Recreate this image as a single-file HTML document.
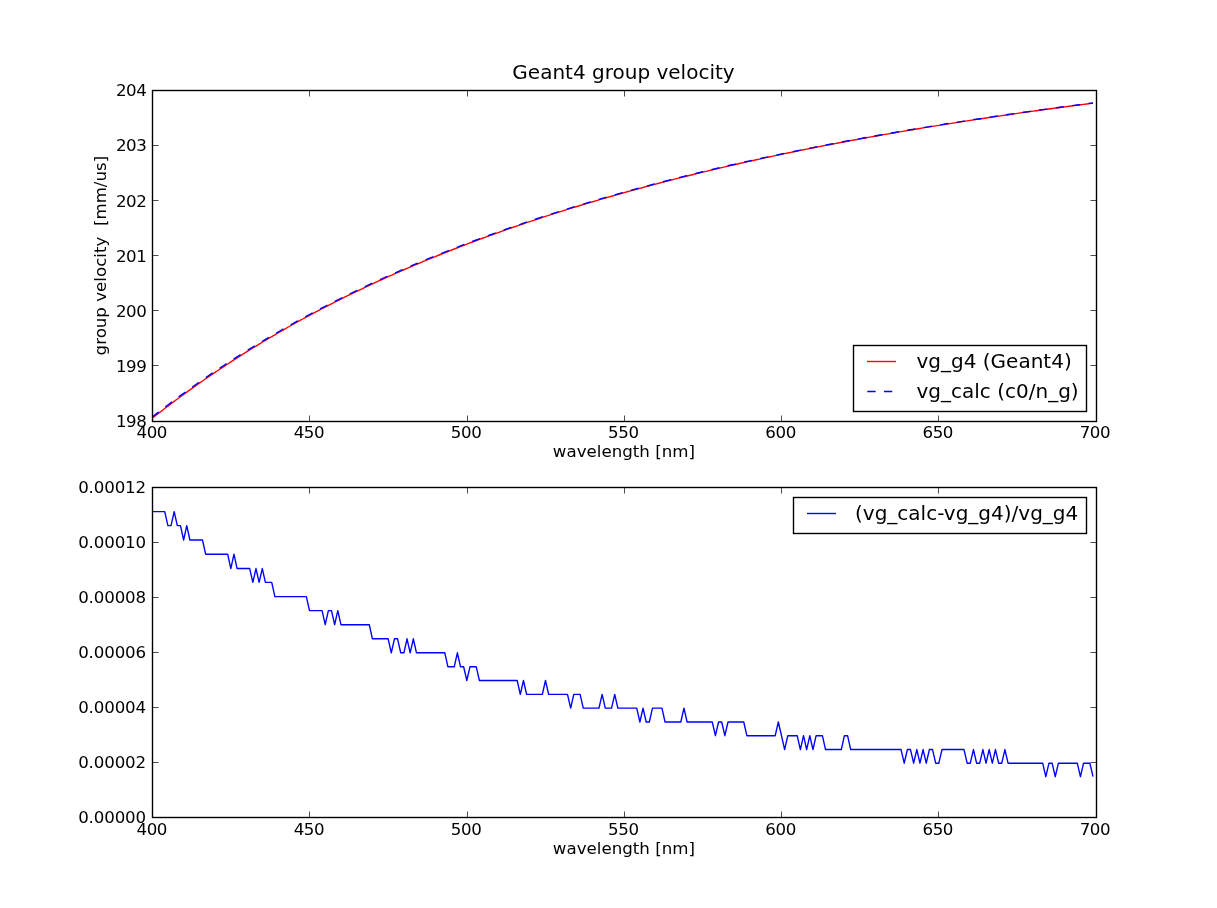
<!DOCTYPE html>
<html lang="en"><head><meta charset="utf-8"><title>Geant4 group velocity</title>
<style>html,body{margin:0;padding:0;background:#fff;}body{width:1217px;height:908px;overflow:hidden;}svg{display:block;}text{font-family:'DejaVu Sans', 'Liberation Sans', sans-serif;fill:#000;}</style></head><body>
<svg width="1217" height="908" viewBox="0 0 1217 908">
<rect x="0" y="0" width="1217" height="908" fill="#ffffff"/>
<defs><clipPath id="c1"><rect x="152.5" y="90.5" width="944.0" height="331.0"/></clipPath><clipPath id="c2"><rect x="152.5" y="487.5" width="944.0" height="330.0"/></clipPath></defs>
<g clip-path="url(#c1)" fill="none" stroke-linejoin="round">
<polyline stroke="#ff0000" stroke-width="1.39" points="152.15,418.26 155.3,415.8 158.44,413.36 161.59,410.93 164.74,408.52 167.88,406.13 171.03,403.75 174.18,401.4 177.32,399.06 180.47,396.74 183.62,394.43 186.76,392.15 189.91,389.88 193.06,387.63 196.2,385.39 199.35,383.18 202.5,380.98 205.64,378.8 208.79,376.63 211.94,374.48 215.08,372.35 218.23,370.24 221.38,368.14 224.52,366.05 227.67,363.99 230.82,361.94 233.96,359.9 237.11,357.88 240.26,355.88 243.4,353.89 246.55,351.91 249.7,349.95 252.84,348 255.99,346.07 259.14,344.16 262.28,342.25 265.43,340.36 268.58,338.49 271.72,336.63 274.87,334.78 278.02,332.94 281.16,331.12 284.31,329.31 287.46,327.52 290.6,325.74 293.75,323.97 296.9,322.22 300.04,320.48 303.19,318.75 306.34,317.04 309.49,315.34 312.63,313.65 315.78,311.98 318.93,310.32 322.07,308.67 325.22,307.04 328.37,305.41 331.51,303.8 334.66,302.2 337.81,300.62 340.95,299.04 344.1,297.48 347.25,295.92 350.39,294.38 353.54,292.85 356.69,291.33 359.83,289.82 362.98,288.32 366.13,286.83 369.27,285.35 372.42,283.88 375.57,282.42 378.71,280.97 381.86,279.54 385.01,278.11 388.15,276.69 391.3,275.28 394.45,273.88 397.59,272.49 400.74,271.11 403.89,269.74 407.03,268.38 410.18,267.03 413.33,265.68 416.47,264.35 419.62,263.02 422.77,261.71 425.91,260.4 429.06,259.1 432.21,257.81 435.35,256.53 438.5,255.25 441.65,253.99 444.79,252.73 447.94,251.48 451.09,250.24 454.23,249.01 457.38,247.79 460.53,246.57 463.67,245.36 466.82,244.16 469.97,242.96 473.11,241.77 476.26,240.59 479.41,239.42 482.55,238.26 485.7,237.1 488.85,235.95 491.99,234.8 495.14,233.66 498.29,232.53 501.43,231.41 504.58,230.3 507.73,229.19 510.87,228.09 514.02,226.99 517.17,225.9 520.31,224.82 523.46,223.75 526.61,222.68 529.75,221.62 532.9,220.57 536.05,219.52 539.19,218.48 542.34,217.44 545.49,216.42 548.63,215.39 551.78,214.38 554.93,213.37 558.07,212.37 561.22,211.37 564.37,210.38 567.51,209.4 570.66,208.42 573.81,207.44 576.95,206.48 580.1,205.52 583.25,204.56 586.39,203.61 589.54,202.67 592.69,201.73 595.83,200.8 598.98,199.87 602.13,198.95 605.27,198.04 608.42,197.13 611.57,196.22 614.71,195.32 617.86,194.43 621.01,193.54 624.15,192.65 627.3,191.77 630.45,190.9 633.6,190.03 636.74,189.17 639.89,188.31 643.04,187.46 646.18,186.61 649.33,185.76 652.48,184.92 655.62,184.09 658.77,183.26 661.92,182.44 665.06,181.62 668.21,180.8 671.36,179.99 674.5,179.18 677.65,178.38 680.8,177.59 683.94,176.79 687.09,176.01 690.24,175.22 693.38,174.45 696.53,173.67 699.68,172.9 702.82,172.14 705.97,171.37 709.12,170.62 712.26,169.86 715.41,169.12 718.56,168.37 721.7,167.63 724.85,166.9 728,166.16 731.14,165.44 734.29,164.71 737.44,163.99 740.58,163.28 743.73,162.56 746.88,161.86 750.02,161.15 753.17,160.45 756.32,159.75 759.46,159.06 762.61,158.37 765.76,157.69 768.9,157.01 772.05,156.33 775.2,155.66 778.34,154.99 781.49,154.33 784.64,153.67 787.78,153.01 790.93,152.36 794.08,151.71 797.22,151.07 800.37,150.43 803.52,149.79 806.66,149.16 809.81,148.53 812.96,147.9 816.1,147.28 819.25,146.66 822.4,146.04 825.54,145.43 828.69,144.82 831.84,144.21 834.98,143.61 838.13,143.01 841.28,142.41 844.42,141.82 847.57,141.23 850.72,140.64 853.86,140.05 857.01,139.47 860.16,138.89 863.3,138.32 866.45,137.74 869.6,137.18 872.74,136.61 875.89,136.04 879.04,135.48 882.18,134.93 885.33,134.37 888.48,133.82 891.62,133.27 894.77,132.72 897.92,132.18 901.06,131.64 904.21,131.1 907.36,130.56 910.5,130.03 913.65,129.5 916.8,128.97 919.94,128.45 923.09,127.93 926.24,127.41 929.38,126.89 932.53,126.37 935.68,125.86 938.83,125.35 941.97,124.84 945.12,124.34 948.27,123.84 951.41,123.34 954.56,122.84 957.71,122.35 960.85,121.85 964,121.36 967.15,120.87 970.29,120.39 973.44,119.91 976.59,119.42 979.73,118.95 982.88,118.47 986.03,118 989.17,117.52 992.32,117.06 995.47,116.59 998.61,116.12 1001.76,115.66 1004.91,115.2 1008.05,114.74 1011.2,114.29 1014.35,113.83 1017.49,113.38 1020.64,112.93 1023.79,112.49 1026.93,112.04 1030.08,111.6 1033.23,111.16 1036.37,110.72 1039.52,110.28 1042.67,109.85 1045.81,109.41 1048.96,108.98 1052.11,108.55 1055.25,108.13 1058.4,107.7 1061.55,107.28 1064.69,106.86 1067.84,106.44 1070.99,106.03 1074.13,105.61 1077.28,105.2 1080.43,104.79 1083.57,104.38 1086.72,103.97 1089.87,103.56 1093.01,103.16"/>
<polyline stroke="#0000ff" stroke-width="1.39" stroke-dasharray="8.33 8.33" points="152.15,417.05 155.3,414.59 158.44,412.14 161.59,409.71 164.74,407.3 167.88,404.97 171.03,402.59 174.18,400.18 177.32,397.9 180.47,395.57 183.62,393.33 186.76,390.98 189.91,388.77 193.06,386.52 196.2,384.29 199.35,382.07 202.5,379.87 205.64,377.75 208.79,375.58 211.94,373.43 215.08,371.3 218.23,369.19 221.38,367.09 224.52,365 227.67,362.94 230.82,360.94 233.96,358.85 237.11,356.89 240.26,354.88 243.4,352.89 246.55,350.92 249.7,348.96 252.84,347.06 255.99,345.08 259.14,343.22 262.28,341.26 265.43,339.42 268.58,337.55 271.72,335.69 274.87,333.89 278.02,332.06 281.16,330.24 284.31,328.43 287.46,326.64 290.6,324.86 293.75,323.09 296.9,321.34 300.04,319.6 303.19,317.87 306.34,316.16 309.49,314.51 312.63,312.82 315.78,311.15 318.93,309.49 322.07,307.84 325.22,306.26 328.37,304.58 331.51,302.97 334.66,301.43 337.81,299.78 340.95,298.27 344.1,296.7 347.25,295.15 350.39,293.61 353.54,292.07 356.69,290.55 359.83,289.04 362.98,287.54 366.13,286.05 369.27,284.58 372.42,283.16 375.57,281.7 378.71,280.26 381.86,278.82 385.01,277.39 388.15,275.97 391.3,274.62 394.45,273.16 397.59,271.77 400.74,270.45 403.89,269.08 407.03,267.66 410.18,266.36 413.33,264.96 416.47,263.68 419.62,262.36 422.77,261.04 425.91,259.73 429.06,258.44 432.21,257.15 435.35,255.86 438.5,254.59 441.65,253.33 444.79,252.07 447.94,250.88 451.09,249.64 454.23,248.4 457.38,247.12 460.53,245.96 463.67,244.75 466.82,243.6 469.97,242.35 473.11,241.16 476.26,239.98 479.41,238.87 482.55,237.7 485.7,236.54 488.85,235.39 491.99,234.25 495.14,233.11 498.29,231.98 501.43,230.86 504.58,229.74 507.73,228.63 510.87,227.53 514.02,226.44 517.17,225.35 520.31,224.33 523.46,223.2 526.61,222.18 529.75,221.12 532.9,220.07 536.05,219.02 539.19,217.98 542.34,216.95 545.49,215.86 548.63,214.9 551.78,213.88 554.93,212.87 558.07,211.87 561.22,210.87 564.37,209.88 567.51,208.9 570.66,207.97 573.81,206.95 576.95,205.98 580.1,205.02 583.25,204.12 586.39,203.17 589.54,202.23 592.69,201.29 595.83,200.36 598.98,199.43 602.13,198.45 605.27,197.59 608.42,196.68 611.57,195.78 614.71,194.82 617.86,193.98 621.01,193.09 624.15,192.21 627.3,191.33 630.45,190.46 633.6,189.59 636.74,188.72 639.89,187.92 643.04,187.01 646.18,186.22 649.33,185.38 652.48,184.48 655.62,183.65 658.77,182.82 661.92,181.99 665.06,181.23 668.21,180.41 671.36,179.6 674.5,178.8 677.65,178 680.8,177.2 683.94,176.35 687.09,175.62 690.24,174.84 693.38,174.06 696.53,173.28 699.68,172.51 702.82,171.75 705.97,170.99 709.12,170.23 712.26,169.48 715.41,168.78 718.56,167.98 721.7,167.24 724.85,166.56 728,165.78 731.14,165.05 734.29,164.32 737.44,163.6 740.58,162.89 743.73,162.17 746.88,161.52 750.02,160.82 753.17,160.12 756.32,159.42 759.46,158.73 762.61,158.04 765.76,157.36 768.9,156.68 772.05,156 775.2,155.33 778.34,154.6 781.49,154 784.64,153.39 787.78,152.68 790.93,152.03 794.08,151.38 797.22,150.73 800.37,150.15 803.52,149.46 806.66,148.88 809.81,148.19 812.96,147.62 816.1,146.94 819.25,146.32 822.4,145.71 825.54,145.15 828.69,144.54 831.84,143.93 834.98,143.33 838.13,142.73 841.28,142.13 844.42,141.48 847.57,140.89 850.72,140.36 853.86,139.78 857.01,139.19 860.16,138.62 863.3,138.04 866.45,137.47 869.6,136.9 872.74,136.33 875.89,135.77 879.04,135.21 882.18,134.65 885.33,134.09 888.48,133.54 891.62,132.99 894.77,132.45 897.92,131.9 901.06,131.36 904.21,130.88 907.36,130.29 910.5,129.75 913.65,129.28 916.8,128.7 919.94,128.23 923.09,127.65 926.24,127.18 929.38,126.61 932.53,126.1 935.68,125.64 938.83,125.13 941.97,124.57 945.12,124.06 948.27,123.56 951.41,123.06 954.56,122.56 957.71,122.07 960.85,121.58 964,121.08 967.15,120.65 970.29,120.17 973.44,119.63 976.59,119.2 979.73,118.72 982.88,118.19 986.03,117.77 989.17,117.25 992.32,116.83 995.47,116.31 998.61,115.9 1001.76,115.44 1004.91,114.92 1008.05,114.52 1011.2,114.07 1014.35,113.61 1017.49,113.16 1020.64,112.71 1023.79,112.26 1026.93,111.82 1030.08,111.38 1033.23,110.93 1036.37,110.5 1039.52,110.06 1042.67,109.62 1045.81,109.25 1048.96,108.76 1052.11,108.33 1055.25,107.96 1058.4,107.48 1061.55,107.06 1064.69,106.64 1067.84,106.22 1070.99,105.8 1074.13,105.39 1077.28,104.98 1080.43,104.62 1083.57,104.16 1086.72,103.75 1089.87,103.34 1093.01,102.99"/>
</g>
<g clip-path="url(#c2)" fill="none" stroke-linejoin="round">
<polyline stroke="#0000ff" stroke-width="1.39" points="152.15,511.65 155.3,511.65 158.44,511.65 161.59,511.65 164.74,511.65 167.88,525.6 171.03,525.6 174.18,511.65 177.32,525.6 180.47,525.6 183.62,540 186.76,525.6 189.91,540 193.06,540 196.2,540 199.35,540 202.5,540 205.64,554.2 208.79,554.2 211.94,554.2 215.08,554.2 218.23,554.2 221.38,554.2 224.52,554.2 227.67,554.2 230.82,568.55 233.96,554.2 237.11,568.55 240.26,568.55 243.4,568.55 246.55,568.55 249.7,568.55 252.84,582.4 255.99,568.55 259.14,582.4 262.28,568.55 265.43,582.4 268.58,582.4 271.72,582.4 274.87,596.6 278.02,596.6 281.16,596.6 284.31,596.6 287.46,596.6 290.6,596.6 293.75,596.6 296.9,596.6 300.04,596.6 303.19,596.6 306.34,596.6 309.49,610.6 312.63,610.6 315.78,610.6 318.93,610.6 322.07,610.6 325.22,624.7 328.37,610.6 331.51,610.6 334.66,624.7 337.81,610.6 340.95,624.7 344.1,624.7 347.25,624.7 350.39,624.7 353.54,624.7 356.69,624.7 359.83,624.7 362.98,624.7 366.13,624.7 369.27,624.7 372.42,638.8 375.57,638.8 378.71,638.8 381.86,638.8 385.01,638.8 388.15,638.8 391.3,652.8 394.45,638.8 397.59,638.8 400.74,652.8 403.89,652.8 407.03,638.8 410.18,652.8 413.33,638.8 416.47,652.8 419.62,652.8 422.77,652.8 425.91,652.8 429.06,652.8 432.21,652.8 435.35,652.8 438.5,652.8 441.65,652.8 444.79,652.8 447.94,666.8 451.09,666.8 454.23,666.8 457.38,652.8 460.53,666.8 463.67,666.8 466.82,680.5 469.97,666.8 473.11,666.8 476.26,666.8 479.41,680.5 482.55,680.5 485.7,680.5 488.85,680.5 491.99,680.5 495.14,680.5 498.29,680.5 501.43,680.5 504.58,680.5 507.73,680.5 510.87,680.5 514.02,680.5 517.17,680.5 520.31,694.4 523.46,680.5 526.61,694.4 529.75,694.4 532.9,694.4 536.05,694.4 539.19,694.4 542.34,694.4 545.49,680.5 548.63,694.4 551.78,694.4 554.93,694.4 558.07,694.4 561.22,694.4 564.37,694.4 567.51,694.4 570.66,708.1 573.81,694.4 576.95,694.4 580.1,694.4 583.25,708.1 586.39,708.1 589.54,708.1 592.69,708.1 595.83,708.1 598.98,708.1 602.13,694.4 605.27,708.1 608.42,708.1 611.57,708.1 614.71,694.4 617.86,708.1 621.01,708.1 624.15,708.1 627.3,708.1 630.45,708.1 633.6,708.1 636.74,708.1 639.89,722 643.04,708.1 646.18,722 649.33,722 652.48,708.1 655.62,708.1 658.77,708.1 661.92,708.1 665.06,722 668.21,722 671.36,722 674.5,722 677.65,722 680.8,722 683.94,708.1 687.09,722 690.24,722 693.38,722 696.53,722 699.68,722 702.82,722 705.97,722 709.12,722 712.26,722 715.41,735.7 718.56,722 721.7,722 724.85,735.7 728,722 731.14,722 734.29,722 737.44,722 740.58,722 743.73,722 746.88,735.7 750.02,735.7 753.17,735.7 756.32,735.7 759.46,735.7 762.61,735.7 765.76,735.7 768.9,735.7 772.05,735.7 775.2,735.7 778.34,722 781.49,735.7 784.64,749.55 787.78,735.7 790.93,735.7 794.08,735.7 797.22,735.7 800.37,749.55 803.52,735.7 806.66,749.55 809.81,735.7 812.96,749.55 816.1,735.7 819.25,735.7 822.4,735.7 825.54,749.55 828.69,749.55 831.84,749.55 834.98,749.55 838.13,749.55 841.28,749.55 844.42,735.7 847.57,735.7 850.72,749.55 853.86,749.55 857.01,749.55 860.16,749.55 863.3,749.55 866.45,749.55 869.6,749.55 872.74,749.55 875.89,749.55 879.04,749.55 882.18,749.55 885.33,749.55 888.48,749.55 891.62,749.55 894.77,749.55 897.92,749.55 901.06,749.55 904.21,763.2 907.36,749.55 910.5,749.55 913.65,763.2 916.8,749.55 919.94,763.2 923.09,749.55 926.24,763.2 929.38,749.55 932.53,749.55 935.68,763.2 938.83,763.2 941.97,749.55 945.12,749.55 948.27,749.55 951.41,749.55 954.56,749.55 957.71,749.55 960.85,749.55 964,749.55 967.15,763.2 970.29,763.2 973.44,749.55 976.59,763.2 979.73,763.2 982.88,749.55 986.03,763.2 989.17,749.55 992.32,763.2 995.47,749.55 998.61,763.2 1001.76,763.2 1004.91,749.55 1008.05,763.2 1011.2,763.2 1014.35,763.2 1017.49,763.2 1020.64,763.2 1023.79,763.2 1026.93,763.2 1030.08,763.2 1033.23,763.2 1036.37,763.2 1039.52,763.2 1042.67,763.2 1045.81,776.7 1048.96,763.2 1052.11,763.2 1055.25,776.7 1058.4,763.2 1061.55,763.2 1064.69,763.2 1067.84,763.2 1070.99,763.2 1074.13,763.2 1077.28,763.2 1080.43,776.7 1083.57,763.2 1086.72,763.2 1089.87,763.2 1093.01,776.7"/>
</g>
<rect x="152.5" y="90.5" width="944.0" height="331.0" fill="none" stroke="#000" stroke-width="1.39"/>
<path d="M309.5 421.5v-6M309.5 90.5v6M152.5 365.5h6M1096.5 365.5h-6M467.5 421.5v-6M467.5 90.5v6M152.5 310.5h6M1096.5 310.5h-6M624.5 421.5v-6M624.5 90.5v6M152.5 255.5h6M1096.5 255.5h-6M781.5 421.5v-6M781.5 90.5v6M152.5 200.5h6M1096.5 200.5h-6M938.5 421.5v-6M938.5 90.5v6M152.5 145.5h6M1096.5 145.5h-6" stroke="#000" stroke-width="0.7" fill="none"/>
<g font-size="16.67" text-anchor="middle" letter-spacing="-0.4">
<text x="151.78" y="437.5">400</text>
<text x="308.97" y="437.5">450</text>
<text x="466.17" y="437.5">500</text>
<text x="623.36" y="437.5">550</text>
<text x="780.56" y="437.5">600</text>
<text x="937.75" y="437.5">650</text>
<text x="1094.95" y="437.5">700</text>
</g>
<g font-size="16.67" text-anchor="end" letter-spacing="-0.4">
<text x="146.5" y="427.2">198</text>
<text x="146.5" y="372.03">199</text>
<text x="146.5" y="316.87">200</text>
<text x="146.5" y="261.7">201</text>
<text x="146.5" y="206.53">202</text>
<text x="146.5" y="151.37">203</text>
<text x="146.5" y="96.2">204</text>
</g>
<rect x="152.5" y="487.5" width="944.0" height="330.0" fill="none" stroke="#000" stroke-width="1.39"/>
<path d="M309.5 817.5v-6M309.5 487.5v6M152.5 762.5h6M1096.5 762.5h-6M467.5 817.5v-6M467.5 487.5v6M152.5 707.5h6M1096.5 707.5h-6M624.5 817.5v-6M624.5 487.5v6M152.5 652.5h6M1096.5 652.5h-6M781.5 817.5v-6M781.5 487.5v6M152.5 597.5h6M1096.5 597.5h-6M938.5 817.5v-6M938.5 487.5v6M152.5 542.5h6M1096.5 542.5h-6" stroke="#000" stroke-width="0.7" fill="none"/>
<g font-size="16.67" text-anchor="middle" letter-spacing="-0.4">
<text x="151.78" y="834.6">400</text>
<text x="308.97" y="834.6">450</text>
<text x="466.17" y="834.6">500</text>
<text x="623.36" y="834.6">550</text>
<text x="780.56" y="834.6">600</text>
<text x="937.75" y="834.6">650</text>
<text x="1094.95" y="834.6">700</text>
</g>
<g font-size="16.67" text-anchor="end" letter-spacing="-0.15">
<text x="146" y="823.2">0.00000</text>
<text x="146" y="768.2">0.00002</text>
<text x="146" y="713.2">0.00004</text>
<text x="146" y="658.2">0.00006</text>
<text x="146" y="603.2">0.00008</text>
<text x="146" y="548.2">0.00010</text>
<text x="146" y="493.2">0.00012</text>
</g>
<text x="623.5" y="78.8" font-size="20" text-anchor="middle">Geant4 group velocity</text>
<text x="623.9" y="457" font-size="16.67" text-anchor="middle">wavelength [nm]</text>
<text x="623.9" y="854" font-size="16.67" text-anchor="middle">wavelength [nm]</text>
<text transform="translate(106 255.6) rotate(-90)" font-size="16.67" text-anchor="middle" xml:space="preserve" style="white-space:pre">group velocity  [mm/us]</text>
<rect x="853.5" y="345.5" width="233" height="66" fill="#fff" stroke="#000" stroke-width="1.39"/>
<path d="M867 361.5H896" stroke="#ff0000" stroke-width="1.39" fill="none"/>
<path d="M867.3 391.5H896" stroke="#0000ff" stroke-width="1.39" stroke-dasharray="8.33 8.33" fill="none"/>
<text x="916.5" y="367.8" font-size="20">vg_g4 (Geant4)</text>
<text x="916.5" y="397.8" font-size="20">vg_calc (c0/n_g)</text>
<rect x="793.5" y="497.5" width="293" height="36" fill="#fff" stroke="#000" stroke-width="1.39"/><path d="M807 513.5H836" stroke="#0000ff" stroke-width="1.39" fill="none"/><text x="855" y="520" font-size="20">(vg_calc-vg_g4)/vg_g4</text>
</svg></body></html>
